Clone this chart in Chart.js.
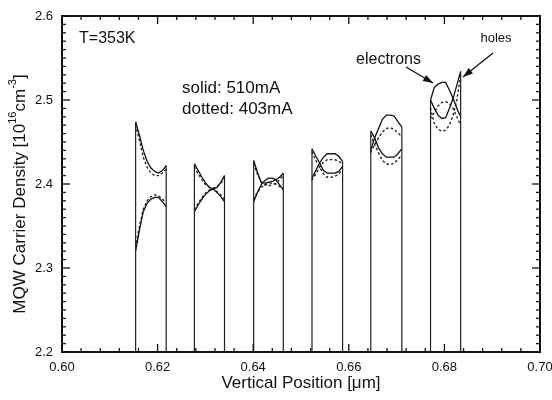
<!DOCTYPE html>
<html><head><meta charset="utf-8">
<script src="https://cdn.jsdelivr.net/npm/chart.js@4"></script>
<style>html,body{margin:0;padding:0;background:#fff}</style>
</head><body>
<canvas id="c" width="552" height="400"></canvas>
<script>
// ---- data ----
const xTickLabels = ['0.60', '0.62', '0.64', '0.66', '0.68', '0.70'];
const yTickLabels = ['2.2', '2.3', '2.4', '2.5', '2.6'];
const wellStart = [0.6154, 0.6277, 0.6401, 0.6523, 0.6646, 0.6771];
const wellEnd   = [0.6218, 0.6340, 0.6463, 0.6587, 0.6711, 0.6834];
const sampleFrac = [0, 0.125, 0.25, 0.375, 0.5, 0.625, 0.75, 0.875, 1];
const holes510 = [
  [2.474, 2.458, 2.440, 2.427, 2.419, 2.415, 2.413, 2.416, 2.422],
  [2.424, 2.416, 2.408, 2.401, 2.396, 2.394, 2.390, 2.385, 2.379],
  [2.428, 2.414, 2.402, 2.401, 2.402, 2.403, 2.405, 2.408, 2.413],
  [2.442, 2.433, 2.425, 2.416, 2.413, 2.413, 2.413, 2.415, 2.421],
  [2.463, 2.455, 2.443, 2.436, 2.432, 2.432, 2.432, 2.436, 2.442],
  [2.500, 2.490, 2.482, 2.478, 2.479, 2.490, 2.502, 2.518, 2.534]
];
const electrons510 = [
  [2.320, 2.345, 2.367, 2.377, 2.382, 2.384, 2.384, 2.379, 2.373],
  [2.367, 2.375, 2.382, 2.388, 2.392, 2.394, 2.396, 2.402, 2.410],
  [2.379, 2.390, 2.399, 2.404, 2.407, 2.407, 2.405, 2.399, 2.393],
  [2.407, 2.416, 2.425, 2.432, 2.436, 2.436, 2.436, 2.433, 2.427],
  [2.440, 2.455, 2.466, 2.477, 2.482, 2.482, 2.481, 2.474, 2.468],
  [2.500, 2.515, 2.519, 2.521, 2.521, 2.512, 2.502, 2.490, 2.480]
];
const holes403 = [
  [2.470, 2.452, 2.432, 2.420, 2.413, 2.410, 2.410, 2.413, 2.418],
  [2.420, 2.412, 2.405, 2.399, 2.396, 2.394, 2.391, 2.387, 2.382],
  [2.424, 2.412, 2.403, 2.399, 2.398, 2.399, 2.401, 2.405, 2.410],
  [2.438, 2.428, 2.420, 2.412, 2.408, 2.408, 2.409, 2.412, 2.417],
  [2.458, 2.447, 2.437, 2.428, 2.424, 2.423, 2.425, 2.429, 2.435],
  [2.490, 2.472, 2.465, 2.463, 2.464, 2.470, 2.482, 2.500, 2.530]
];
const electrons403 = [
  [2.325, 2.350, 2.370, 2.380, 2.385, 2.387, 2.386, 2.382, 2.378],
  [2.370, 2.377, 2.384, 2.389, 2.393, 2.395, 2.397, 2.401, 2.406],
  [2.382, 2.390, 2.396, 2.399, 2.401, 2.401, 2.400, 2.397, 2.394],
  [2.405, 2.412, 2.420, 2.426, 2.429, 2.429, 2.429, 2.427, 2.424],
  [2.438, 2.447, 2.455, 2.462, 2.466, 2.467, 2.465, 2.461, 2.456],
  [2.478, 2.485, 2.493, 2.497, 2.498, 2.496, 2.490, 2.480, 2.470]
];
const yBase = 2.2;

// ---- build datasets ----
const FONT = '"Liberation Sans", Arial, Helvetica, sans-serif';
function seriesPoints(vals) {
  const pts = [];
  vals.forEach((well, w) => {
    well.forEach((v, k) => {
      pts.push({x: wellStart[w] + sampleFrac[k] * (wellEnd[w] - wellStart[w]), y: v});
    });
    pts.push({x: wellEnd[w], y: null});
  });
  return pts;
}
function wallPoints() {
  const pts = [];
  const last = sampleFrac.length - 1;
  wellStart.forEach((xs, w) => {
    const topL = Math.max(holes510[w][0], electrons510[w][0], holes403[w][0], electrons403[w][0]);
    const topR = Math.max(holes510[w][last], electrons510[w][last], holes403[w][last], electrons403[w][last]);
    pts.push({x: xs, y: yBase}, {x: xs, y: topL}, {x: xs, y: null});
    pts.push({x: wellEnd[w], y: yBase}, {x: wellEnd[w], y: topR}, {x: wellEnd[w], y: null});
  });
  return pts;
}
const solidStyle = {borderColor: '#111', borderWidth: 1.3, pointRadius: 0, tension: 0, spanGaps: false};
const dotStyle = {borderColor: '#222', borderWidth: 1.4, borderDash: [1.4, 3.4], borderCapStyle: 'round', pointRadius: 0, tension: 0, spanGaps: false};

const decor = {
  id: 'decor',
  afterDatasetsDraw(chart) {
    const {ctx, chartArea: a, scales: {x, y}} = chart;
    const P = (vx, vy) => [x.getPixelForValue(vx), y.getPixelForValue(vy)];
    ctx.save();
    ctx.strokeStyle = '#111';
    ctx.lineWidth = 2;
    ctx.strokeRect(a.left, a.top, a.right - a.left, a.bottom - a.top);
    ctx.lineWidth = 1.3;
    const ln = (x1, y1, x2, y2) => { ctx.beginPath(); ctx.moveTo(x1, y1); ctx.lineTo(x2, y2); ctx.stroke(); };
    for (let i = 0; i <= 25; i++) {
      const px = x.getPixelForValue(0.6 + i * 0.004);
      const len = i % 5 === 0 ? 8 : 4;
      ln(px, a.bottom, px, a.bottom - len);
      ln(px, a.top, px, a.top + len);
    }
    for (let i = 0; i <= 40; i++) {
      const py = y.getPixelForValue(2.2 + i * 0.01);
      const len = i % 10 === 0 ? 8 : 4;
      ln(a.left, py, a.left + len, py);
      ln(a.right, py, a.right - len, py);
    }
    // annotations
    ctx.fillStyle = '#111';
    ctx.textBaseline = 'middle';
    ctx.textAlign = 'left';
    ctx.font = '16px ' + FONT;
    let p = P(0.60356, 2.5726); ctx.fillText('T=353K', p[0], p[1]);
    ctx.font = '17px ' + FONT;
    p = P(0.6251, 2.5143); ctx.fillText('solid: 510mA', p[0], p[1]);
    p = P(0.6251, 2.4893); ctx.fillText('dotted: 403mA', p[0], p[1]);
    ctx.font = '16px ' + FONT;
    ctx.textAlign = 'right';
    p = P(0.6751, 2.5476); ctx.fillText('electrons', p[0], p[1]);
    ctx.font = '13px ' + FONT;
    ctx.textAlign = 'center';
    p = P(0.6908, 2.5738); ctx.fillText('holes', p[0], p[1]);
    const arrow = (a1, a2) => {
      const [x1, y1] = P(a1[0], a1[1]); const [x2, y2] = P(a2[0], a2[1]);
      ctx.lineWidth = 1.3; ln(x1, y1, x2, y2);
      const ang = Math.atan2(y2 - y1, x2 - x1), L = 10, W = 3.5;
      ctx.beginPath();
      ctx.moveTo(x2, y2);
      ctx.lineTo(x2 - L * Math.cos(ang) + W * Math.sin(ang), y2 - L * Math.sin(ang) - W * Math.cos(ang));
      ctx.lineTo(x2 - L * Math.cos(ang) - W * Math.sin(ang), y2 - L * Math.sin(ang) + W * Math.cos(ang));
      ctx.closePath(); ctx.fill();
    };
    arrow([0.67197, 2.5393], [0.67762, 2.5202]);
    arrow([0.69017, 2.556], [0.68389, 2.5274]);
    // axis titles
    ctx.font = '17px ' + FONT;
    ctx.textAlign = 'center';
    ctx.fillText('Vertical Position [\u03BCm]', (a.left + a.right) / 2, 383);
    // y title with superscripts
    ctx.save();
    ctx.translate(20, 194);
    ctx.rotate(-Math.PI / 2);
    const big = '17px ' + FONT, small = '11px ' + FONT;
    const parts = [['MQW Carrier Density [10', big, 0], ['16', small, -7], ['cm', big, 0], ['-3', small, -7], [']', big, 0]];
    let total = 0;
    parts.forEach(pt => { ctx.font = pt[1]; total += ctx.measureText(pt[0]).width; });
    let cx = -total / 2;
    ctx.textAlign = 'left';
    parts.forEach(pt => { ctx.font = pt[1]; ctx.fillText(pt[0], cx, pt[2]); cx += ctx.measureText(pt[0]).width; });
    ctx.restore();
    ctx.restore();
  }
};

new Chart(document.getElementById('c'), {
  type: 'line',
  data: {
    datasets: [
      Object.assign({data: wallPoints()}, solidStyle, {borderColor: '#222', borderWidth: 1.2}),
      Object.assign({data: seriesPoints(holes510)}, solidStyle),
      Object.assign({data: seriesPoints(electrons510)}, solidStyle),
      Object.assign({data: seriesPoints(holes403)}, dotStyle),
      Object.assign({data: seriesPoints(electrons403)}, dotStyle)
    ]
  },
  options: {
    responsive: false,
    animation: false,
    devicePixelRatio: 1,
    layout: {padding: {left: 0, top: 16, right: 12, bottom: 0}},
    plugins: {legend: {display: false}, tooltip: {enabled: false}},
    scales: {
      x: {
        type: 'linear', min: 0.6, max: 0.7,
        grid: {display: false, drawTicks: false}, border: {display: false},
        ticks: {stepSize: 0.02, padding: 8, color: '#111', font: {family: FONT, size: 13},
          maxRotation: 0, autoSkip: false, callback: (v, i) => xTickLabels[i]},
        afterFit: s => { s.height = 48; s.paddingLeft = 0; s.paddingRight = 0; }
      },
      y: {
        type: 'linear', min: 2.2, max: 2.6,
        grid: {display: false, drawTicks: false}, border: {display: false},
        ticks: {stepSize: 0.1, padding: 9, color: '#111', font: {family: FONT, size: 13},
          callback: (v, i) => yTickLabels[i]},
        afterFit: s => { s.width = 62; s.paddingTop = 0; s.paddingBottom = 0; }
      }
    }
  },
  plugins: [decor]
});
</script>
</body></html>
